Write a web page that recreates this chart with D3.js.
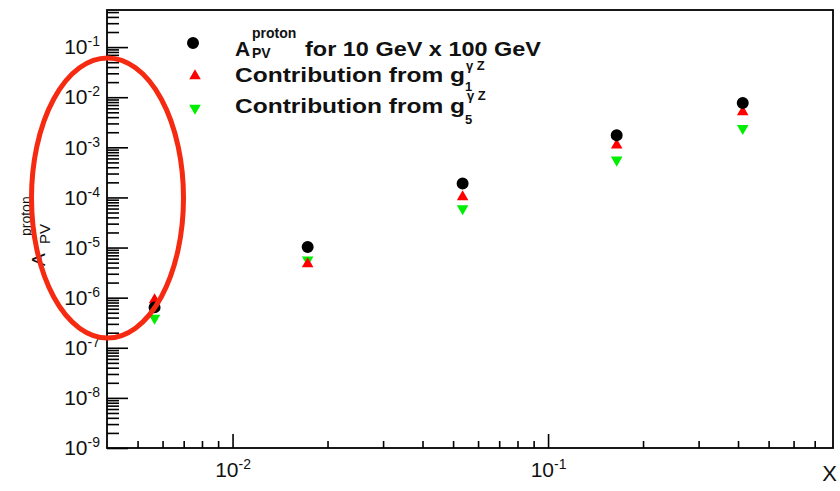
<!DOCTYPE html>
<html>
<head>
<meta charset="utf-8">
<script src="https://cdn.jsdelivr.net/npm/d3@7"></script>
<style>
  body { margin: 0; background: #fff; }
  svg { display: block; font-family: "Liberation Sans", Arial, sans-serif; }
</style>
</head>
<body>
<div class="chart"></div>
<script>
// values (x = Bjorken x, y = asymmetry)
var xValues   = [0.00566, 0.0173, 0.0536, 0.165, 0.414];
var apvProton = [6.4e-7, 1.03e-5, 1.9e-4, 1.75e-3, 7.7e-3];
var fromG1    = [9.0e-7, 4.7e-6, 1.02e-4, 1.1e-3, 5.1e-3];
var fromG5    = [3.9e-7, 5.7e-6, 6.0e-5, 5.6e-4, 2.4e-3];

var xMajorTicks = [0.01, 0.1];
var yMajorTicks = [1e-9, 1e-8, 1e-7, 1e-6, 1e-5, 1e-4, 1e-3, 1e-2, 1e-1];

var opts = {
  width: 840, height: 491,
  left: 107, right: 833, top: 10, bottom: 448,
  xMin: 0.004, xMax: 0.8, yMin: 1e-9, yMax: 0.55
};

var svg = d3.select('.chart').append('svg')
  .attr('width', opts.width).attr('height', opts.height);

var x = d3.scaleLog().domain([opts.xMin, opts.xMax]).range([opts.left, opts.right]);
var y = d3.scaleLog().domain([opts.yMin, opts.yMax]).range([opts.bottom, opts.top]);

// minor ticks 2..9 in every decade
var minorTicks = function (lo, hi) {
  var out = [];
  for (var e = Math.floor(Math.log10(lo)); e <= Math.ceil(Math.log10(hi)); e++) {
    for (var k = 2; k <= 9; k++) {
      var v = k * Math.pow(10, e);
      if (v > lo && v < hi) out.push(v);
    }
  }
  return out;
};

var addExponent = function (sel, dy, size) {
  sel.selectAll('.tick text').each(function (d) {
    d3.select(this).append('tspan')
      .attr('dy', dy).attr('font-size', size)
      .text(Math.round(Math.log10(d)));
  });
};

// y axis
svg.append('g').attr('transform', 'translate(' + opts.left + ',0)')
  .call(d3.axisLeft(y).tickValues(minorTicks(opts.yMin, opts.yMax)).tickSize(-12).tickSizeOuter(0).tickFormat(''));
var yMajor = svg.append('g').attr('transform', 'translate(' + opts.left + ',0)')
  .call(d3.axisLeft(y).tickValues(yMajorTicks).tickSize(-21).tickSizeOuter(0).tickPadding(7)
    .tickFormat(function () { return '10'; }));
addExponent(yMajor, -8, 14);

// x axis
svg.append('g').attr('transform', 'translate(0,' + opts.bottom + ')')
  .call(d3.axisBottom(x).tickValues(minorTicks(opts.xMin, opts.xMax)).tickSize(-7).tickSizeOuter(0).tickFormat(''));
var xMajor = svg.append('g').attr('transform', 'translate(0,' + opts.bottom + ')')
  .call(d3.axisBottom(x).tickValues(xMajorTicks).tickSize(-14).tickSizeOuter(0).tickPadding(14)
    .tickFormat(function () { return '10'; }));
addExponent(xMajor, -8, 14);

svg.selectAll('.domain').remove();
svg.selectAll('.tick line').attr('stroke', '#000').attr('stroke-width', 1.6);
svg.selectAll('.tick text').attr('font-size', 21).attr('fill', '#111')
  .attr('font-family', '"Liberation Sans", Arial, sans-serif');

// frame
svg.append('rect')
  .attr('x', opts.left).attr('y', opts.top)
  .attr('width', opts.right - opts.left).attr('height', opts.bottom - opts.top)
  .attr('fill', 'none').attr('stroke', '#000').attr('stroke-width', 1.8);

// axis titles
svg.append('text').attr('x', 837).attr('y', 481).attr('text-anchor', 'end')
  .attr('font-size', 22).attr('fill', '#111').text('X');

var yTitle = svg.append('g').attr('transform', 'translate(45,266) rotate(-90)').attr('fill', '#111');
yTitle.append('text').attr('x', 0).attr('y', 0).attr('font-size', 19).text('A');
yTitle.append('text').attr('x', 22).attr('y', 5).attr('font-size', 15).text('PV');
yTitle.append('text').attr('x', 30).attr('y', -14).attr('font-size', 14).text('proton');

// markers
var circle = d3.symbol().type(d3.symbolCircle).size(113);
var tri = d3.symbol().type(d3.symbolTriangle).size(58);

var series = [
  { name: 'g5', values: fromG5, color: '#00ee00', shape: tri, rot: 180 },
  { name: 'g1', values: fromG1, color: '#ff0000', shape: tri, rot: 0 },
  { name: 'apv', values: apvProton, color: '#000000', shape: circle, rot: 0 }
];

series.forEach(function (s) {
  svg.append('g').selectAll('path')
    .data(s.values)
    .enter()
    .append('path')
    .attr('d', s.shape)
    .attr('fill', s.color)
    .attr('transform', function (v, i) {
      return 'translate(' + x(xValues[i]) + ',' + y(v) + ') rotate(' + s.rot + ')';
    });
});

// legend
var legend = svg.append('g').attr('fill', '#111').attr('font-weight', 'bold');
legend.append('path').attr('d', circle).attr('fill', '#000').attr('transform', 'translate(193,43)');
legend.append('path').attr('d', tri).attr('fill', '#ff0000').attr('transform', 'translate(195,76)');
legend.append('path').attr('d', tri).attr('fill', '#00ee00').attr('transform', 'translate(195,108) rotate(180)');

legend.append('text').attr('x', 235).attr('y', 56).attr('font-size', 21).text('A');
legend.append('text').attr('x', 252).attr('y', 38).attr('font-size', 14).text('proton');
legend.append('text').attr('x', 252).attr('y', 58).attr('font-size', 14).text('PV');
legend.append('text').attr('x', 305).attr('y', 56).attr('font-size', 21)
  .attr('textLength', 236).attr('lengthAdjust', 'spacingAndGlyphs').text('for 10 GeV x 100 GeV');

legend.append('text').attr('x', 235).attr('y', 82).attr('font-size', 21)
  .attr('textLength', 230).attr('lengthAdjust', 'spacingAndGlyphs').text('Contribution from g');
legend.append('text').attr('x', 466).attr('y', 70).attr('font-size', 13).text('\u03b3 Z');
legend.append('text').attr('x', 465).attr('y', 91).attr('font-size', 13).text('1');

legend.append('text').attr('x', 235).attr('y', 113).attr('font-size', 21)
  .attr('textLength', 230).attr('lengthAdjust', 'spacingAndGlyphs').text('Contribution from g');
legend.append('text').attr('x', 467).attr('y', 100).attr('font-size', 13).text('\u03b3 Z');
legend.append('text').attr('x', 465).attr('y', 124).attr('font-size', 13).text('5');

// red ellipse annotation
svg.append('ellipse')
  .attr('cx', 107.5).attr('cy', 198).attr('rx', 76).attr('ry', 140)
  .attr('fill', 'none').attr('stroke', '#f52a10').attr('stroke-width', 5);
</script>
</body>
</html>
